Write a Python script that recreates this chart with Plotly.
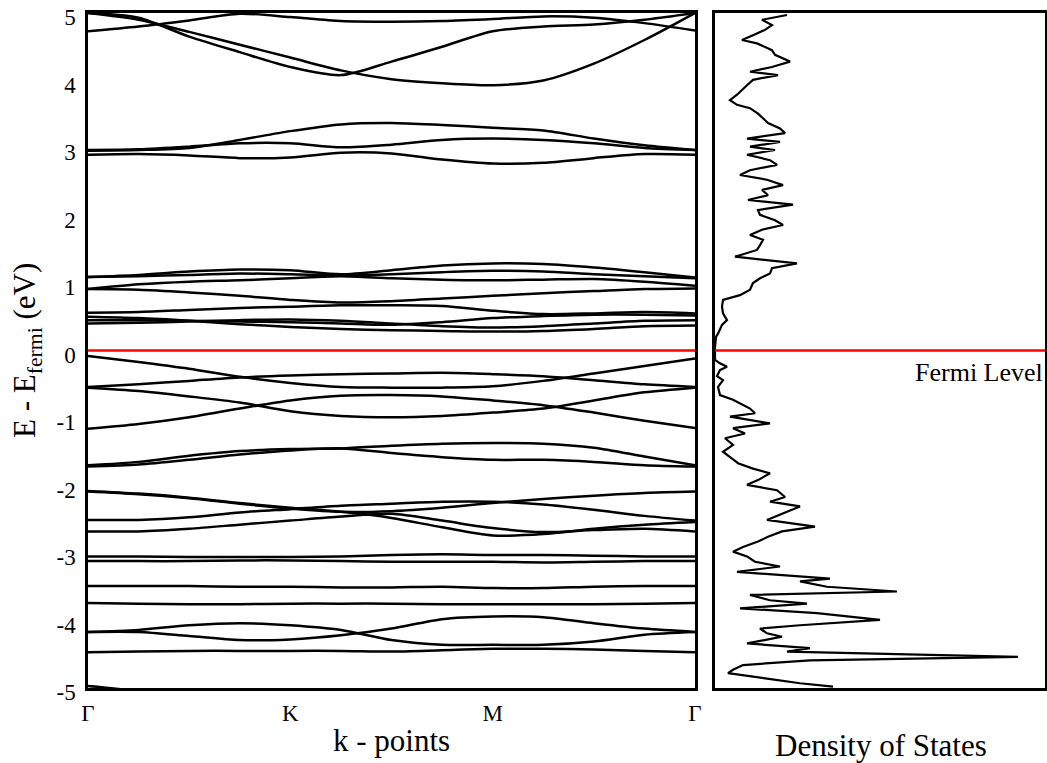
import plotly.graph_objects as go

# ---------------- data ----------------
# k-path sample points (Gamma=0, K=1, M=2, Gamma=3)
k_grid = [0.0, 0.25, 0.5, 0.75, 1.0, 1.25, 1.5, 1.75, 2.0, 2.25, 2.5, 2.75, 3.0]
k_tick_pos = [0, 1, 2, 3]
k_tick_labels = ["Γ", "K", "M", "Γ"]

# energy bands (eV, relative to E_fermi) read at the k_grid points
band_t1 = [4.73, 4.80, 4.89, 4.99, 4.94, 4.88, 4.87, 4.88, 4.91, 4.95, 4.93, 4.85, 4.74]
band_t2 = [5.00, 4.90, 4.72, 4.53, 4.34, 4.15, 4.02, 3.96, 3.93, 4.00, 4.25, 4.60, 5.00]
band_t3 = [5.00, 4.93, 4.65, 4.42, 4.20, 4.08, 4.28, 4.50, 4.73, 4.80, 4.83, 4.90, 5.00]
band_u1 = [2.96, 2.97, 3.00, 3.12, 3.25, 3.35, 3.37, 3.34, 3.30, 3.26, 3.14, 3.04, 2.97]
band_u2 = [2.97, 2.98, 3.02, 3.07, 3.07, 3.01, 3.05, 3.12, 3.14, 3.12, 3.07, 3.00, 2.97]
band_u3 = [2.90, 2.91, 2.89, 2.85, 2.86, 2.93, 2.92, 2.83, 2.77, 2.78, 2.85, 2.91, 2.90]
band_b1 = [1.09, 1.12, 1.17, 1.20, 1.19, 1.13, 1.19, 1.26, 1.29, 1.28, 1.23, 1.16, 1.08]
band_b2 = [0.91, 0.90, 0.86, 0.81, 0.75, 0.71, 0.73, 0.77, 0.81, 0.85, 0.88, 0.91, 0.92]
band_b3 = [0.91, 0.98, 1.02, 1.04, 1.07, 1.10, 1.07, 1.05, 1.04, 1.05, 1.06, 1.02, 0.96]
band_b4 = [1.09, 1.10, 1.12, 1.14, 1.13, 1.11, 1.13, 1.16, 1.18, 1.17, 1.13, 1.10, 1.07]
band_c1 = [0.56, 0.57, 0.60, 0.63, 0.65, 0.67, 0.67, 0.66, 0.59, 0.54, 0.55, 0.57, 0.55]
band_c2 = [0.50, 0.48, 0.44, 0.39, 0.35, 0.32, 0.30, 0.29, 0.28, 0.29, 0.32, 0.36, 0.37]
band_c3 = [0.45, 0.45, 0.44, 0.43, 0.42, 0.40, 0.38, 0.42, 0.48, 0.51, 0.53, 0.53, 0.52]
band_c4 = [0.40, 0.41, 0.43, 0.45, 0.46, 0.44, 0.40, 0.36, 0.34, 0.36, 0.40, 0.44, 0.45]
band_v1 = [-0.08, -0.17, -0.27, -0.39, -0.48, -0.54, -0.55, -0.55, -0.53, -0.45, -0.34, -0.23, -0.12]
band_v2 = [-0.54, -0.50, -0.45, -0.40, -0.37, -0.35, -0.34, -0.33, -0.35, -0.38, -0.44, -0.50, -0.54]
band_v3 = [-0.55, -0.60, -0.68, -0.77, -0.90, -0.97, -0.99, -0.97, -0.92, -0.86, -0.74, -0.62, -0.55]
band_v4 = [-1.16, -1.09, -0.99, -0.86, -0.74, -0.67, -0.66, -0.68, -0.74, -0.81, -0.92, -1.04, -1.15]
band_w1 = [-1.70, -1.65, -1.56, -1.49, -1.46, -1.45, -1.41, -1.38, -1.37, -1.38, -1.44, -1.57, -1.70]
band_w2 = [-1.72, -1.69, -1.62, -1.54, -1.48, -1.45, -1.52, -1.58, -1.62, -1.62, -1.65, -1.70, -1.72]
band_x1 = [-2.08, -2.12, -2.18, -2.26, -2.33, -2.39, -2.48, -2.62, -2.74, -2.72, -2.64, -2.58, -2.54]
band_x2 = [-2.51, -2.51, -2.47, -2.40, -2.35, -2.30, -2.27, -2.24, -2.24, -2.28, -2.36, -2.45, -2.52]
band_x3 = [-2.68, -2.68, -2.64, -2.58, -2.52, -2.46, -2.42, -2.52, -2.63, -2.69, -2.66, -2.64, -2.68]
band_x4 = [-2.09, -2.13, -2.19, -2.27, -2.34, -2.39, -2.38, -2.33, -2.26, -2.20, -2.15, -2.11, -2.09]
band_f1 = [-3.05, -3.05, -3.06, -3.06, -3.06, -3.05, -3.03, -3.02, -3.03, -3.03, -3.04, -3.05, -3.05]
band_f2 = [-3.12, -3.12, -3.12, -3.11, -3.11, -3.12, -3.13, -3.13, -3.13, -3.14, -3.13, -3.12, -3.12]
band_f3 = [-3.49, -3.49, -3.49, -3.50, -3.50, -3.51, -3.51, -3.50, -3.52, -3.52, -3.50, -3.49, -3.49]
band_f4 = [-3.74, -3.75, -3.76, -3.76, -3.75, -3.75, -3.75, -3.76, -3.76, -3.76, -3.76, -3.75, -3.74]
band_g1 = [-4.17, -4.14, -4.07, -4.04, -4.07, -4.14, -4.29, -4.36, -4.36, -4.36, -4.31, -4.21, -4.17]
band_g2 = [-4.17, -4.17, -4.23, -4.29, -4.28, -4.22, -4.12, -3.98, -3.94, -3.95, -4.04, -4.12, -4.17]
band_g3 = [-4.47, -4.46, -4.45, -4.45, -4.45, -4.45, -4.46, -4.44, -4.42, -4.42, -4.43, -4.45, -4.47]
band_g4 = [-4.97, -5.06, -5.30, -5.50, -5.60, -5.60, -5.60, -5.60, -5.60, -5.60, -5.50, -5.40, -5.30]

bands = [band_t1, band_t2, band_t3, band_u1, band_u2, band_u3,
         band_b1, band_b2, band_b3, band_b4, band_c1, band_c2, band_c3, band_c4,
         band_v1, band_v2, band_v3, band_v4, band_w1, band_w2,
         band_x1, band_x2, band_x3, band_x4, band_f1, band_f2, band_f3, band_f4,
         band_g1, band_g2, band_g3, band_g4]

# density of states (arbitrary units) vs energy
dos_energy = [4.97, 4.90, 4.82, 4.75, 4.67, 4.60, 4.55, 4.45, 4.38, 4.28, 4.20, 4.13, 4.08, 4.01,
              3.93, 3.86, 3.79, 3.71, 3.64, 3.59, 3.51, 3.44, 3.37, 3.29, 3.22, 3.14, 3.09, 3.02,
              2.97, 2.90, 2.82, 2.75, 2.67, 2.60, 2.53, 2.45, 2.38, 2.30, 2.23, 2.16, 2.08, 2.01,
              1.93, 1.86, 1.79, 1.71, 1.64, 1.56, 1.49, 1.39, 1.37, 1.29, 1.22, 1.14, 1.07, 1.00,
              0.90, 0.82, 0.75, 0.65, 0.55, 0.45, 0.38, 0.30, 0.25, 0.20, 0.11, 0.05, -0.14, -0.19,
              -0.24, -0.29, -0.38, -0.44, -0.54, -0.66, -0.73, -0.81, -0.86, -0.93, -0.98, -1.08,
              -1.15, -1.23, -1.30, -1.40, -1.50, -1.60, -1.67, -1.75, -1.82, -1.92, -1.99, -2.07,
              -2.17, -2.24, -2.31, -2.39, -2.51, -2.61, -2.68, -2.76, -2.83, -2.91, -2.98, -3.05,
              -3.13, -3.20, -3.28, -3.38, -3.42, -3.50, -3.57, -3.62, -3.70, -3.75, -3.82, -3.89,
              -3.99, -4.07, -4.12, -4.19, -4.24, -4.34, -4.41, -4.46, -4.54, -4.59, -4.66, -4.73,
              -4.78, -4.86, -4.93, -4.98]
dos_value = [7.2, 4.7, 5.7, 5.0, 3.8, 2.7, 4.2, 5.7, 6.0, 7.5, 5.7, 3.5, 6.3, 3.8,
             3.2, 2.7, 2.2, 1.5, 2.2, 3.5, 4.3, 4.8, 5.3, 6.5, 7.0, 3.2, 6.5, 3.5,
             6.0, 3.2, 5.5, 6.2, 3.5, 2.5, 5.2, 6.8, 4.7, 5.3, 3.3, 7.8, 4.3, 4.5,
             6.0, 6.8, 4.7, 3.5, 4.8, 4.5, 4.2, 2.0, 3.3, 8.2, 5.7, 5.5, 4.5, 3.8,
             3.5, 2.5, 0.8, 0.7, 0.8, 1.2, 0.7, 0.5, 0.3, 0.1, 0.0, 0.0, 0.0, 0.5,
             1.2, 0.5, 0.2, 0.8, 0.3, 0.5, 1.8, 2.8, 3.5, 4.0, 1.5, 5.5,
             1.8, 3.0, 1.0, 1.8, 0.8, 1.7, 2.3, 3.8, 5.5, 4.3, 3.2, 6.2,
             7.0, 5.5, 8.5, 7.2, 5.2, 10.0, 6.7, 5.3, 4.3, 2.8, 1.8, 3.2,
             4.0, 6.5, 2.2, 11.5, 8.5, 11.2, 18.2, 3.5, 5.5, 9.2, 2.5, 10.2,
             16.5, 8.5, 4.5, 5.2, 6.7, 3.2, 9.5, 7.2, 30.3, 9.5, 2.8, 1.8,
             1.3, 5.2, 8.5, 11.8]

energy_ticks = [5, 4, 3, 2, 1, 0, -1, -2, -3, -4, -5]
energy_tick_labels = ["5", "4", "3", "2", "1", "0", "-1", "-2", "-3", "-4", "-5"]
fermi_energy = 0.0

# ---------------- figure ----------------
W, H = 1047, 763
FONT = "Liberation Serif"

fig = go.Figure()
for b in bands:
    fig.add_trace(go.Scatter(
        x=k_grid, y=b, mode="lines", xaxis="x", yaxis="y",
        line=dict(color="black", width=2.5, shape="spline", smoothing=0.8),
        showlegend=False, hoverinfo="skip"))

fig.add_trace(go.Scatter(
    x=dos_value, y=dos_energy, mode="lines", xaxis="x2", yaxis="y2",
    line=dict(color="black", width=2.2), showlegend=False, hoverinfo="skip"))

x1_dom = [88 / W, 695 / W]
x2_dom = [715 / W, 1045 / W]
y_dom = [1 - 688 / H, 1 - 13 / H]

frame = dict(showline=True, mirror=True, linecolor="black", linewidth=2.5,
             showgrid=False, zeroline=False, automargin=False)

fig.update_layout(
    width=W, height=H,
    margin=dict(l=0, r=0, t=0, b=0),
    paper_bgcolor="white", plot_bgcolor="white",
    font=dict(family=FONT, color="black"),
    showlegend=False,
    xaxis=dict(domain=x1_dom, range=[0, 3], tickvals=k_tick_pos, ticktext=k_tick_labels,
               ticks="outside", ticklen=3, tickcolor="rgba(0,0,0,0)",
               tickfont=dict(size=23, family=FONT), anchor="y", **frame),
    yaxis=dict(domain=y_dom, range=[-5, 5], tickvals=energy_ticks, ticktext=energy_tick_labels,
               ticks="outside", ticklen=5, tickcolor="rgba(0,0,0,0)", ticklabelshift=4,
               tickfont=dict(size=23, family=FONT), anchor="x", **frame),
    xaxis2=dict(domain=x2_dom, range=[0, 33], showticklabels=False, anchor="y2", **frame),
    yaxis2=dict(domain=y_dom, range=[-5, 5], showticklabels=False, anchor="x2", **frame),
    shapes=[
        dict(type="line", xref="x domain", yref="y", x0=0, x1=1, y0=fermi_energy, y1=fermi_energy,
             line=dict(color="red", width=2.5)),
        dict(type="line", xref="x2 domain", yref="y2", x0=0, x1=1, y0=fermi_energy, y1=fermi_energy,
             line=dict(color="red", width=2.5)),
    ],
    annotations=[
        dict(text="E - E<sub>fermi</sub> (eV)", xref="paper", yref="paper",
             x=27 / W, y=1 - 351 / H, textangle=-90, showarrow=False,
             font=dict(size=31, family=FONT), xanchor="center", yanchor="middle"),
        dict(text="k - points", xref="paper", yref="paper",
             x=391 / W, y=1 - 740 / H, showarrow=False,
             font=dict(size=31, family=FONT), xanchor="center", yanchor="middle"),
        dict(text="Density of States", xref="paper", yref="paper",
             x=881 / W, y=1 - 745 / H, showarrow=False,
             font=dict(size=31, family=FONT), xanchor="center", yanchor="middle"),
        dict(text="Fermi Level", xref="x2 domain", yref="paper",
             x=1.0, y=1 - 372 / H, showarrow=False,
             font=dict(size=26, family=FONT), xanchor="right", yanchor="middle"),
    ],
)

fig.write_html("out.html")
